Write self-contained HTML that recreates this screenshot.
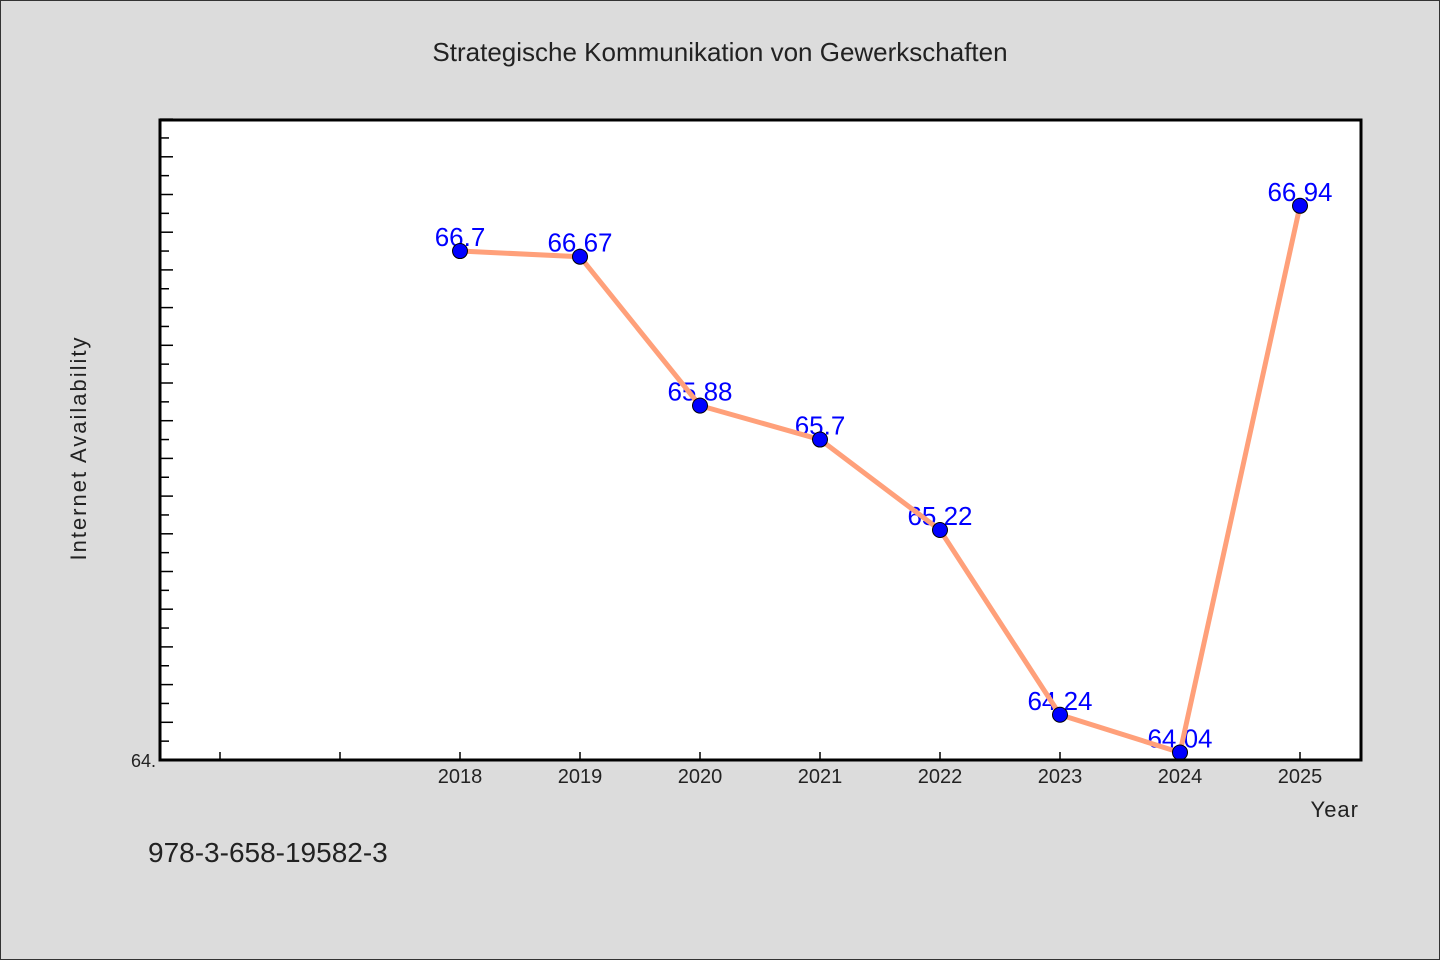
<!DOCTYPE html>
<html><head><meta charset="utf-8"><style>
body{margin:0;background:#dcdcdc}
svg{display:block}
text{font-family:"WenQuanYi Zen Hei","Liberation Sans",sans-serif}
</style></head><body>
<svg width="1440" height="960" viewBox="0 0 1440 960">
<rect x="0.5" y="0.5" width="1439" height="959" fill="#dcdcdc" stroke="#333"/>
<text x="720" y="61" font-size="26" text-anchor="middle" fill="#222">Strategische Kommunikation von Gewerkschaften</text>
<rect x="160" y="120" width="1201" height="640" fill="#fff"/>
<g id="ticks"></g>
<g id="labels"></g>
<g id="series"></g>
<rect x="160" y="120" width="1201" height="640" fill="none" stroke="#000" stroke-width="3"/>
<text x="156" y="767" font-size="18" text-anchor="end" fill="#222">64.</text>
<text x="86" y="448" font-size="22" text-anchor="middle" fill="#222" transform="rotate(-90 86 448)" letter-spacing="2">Internet Availability</text>
<text x="1359" y="817" font-size="22" text-anchor="end" fill="#222" letter-spacing="1">Year</text>
<text x="148" y="862" font-size="28" fill="#222">978-3-658-19582-3</text>
</svg>
<script>
const years=[2018,2019,2020,2021,2022,2023,2024,2025];
const values=[66.7,66.67,65.88,65.7,65.22,64.24,64.04,66.94];
const valueLabels=["66.7","66.67","65.88","65.7","65.22","64.24","64.04","66.94"];
const xTicks=[2016,2017,2018,2019,2020,2021,2022,2023,2024,2025];
const NS="http://www.w3.org/2000/svg";
const x=v=>160+(v-2015.5)*120;
const y=v=>760-(v-64)*188.5;
function mk(t,a,p){const e=document.createElementNS(NS,t);for(const k in a)e.setAttribute(k,a[k]);p.appendChild(e);return e;}
const tk=document.getElementById('ticks'),lb=document.getElementById('labels'),sr=document.getElementById('series');
for(let i=1;i<=34;i++){const v=64+i*0.1;const long=i%2==0;
 const l=mk('line',{x1:160,x2:160+(long?13:9),y1:y(v),y2:y(v),stroke:'#000','stroke-width':1.5},tk);
 
 }
xTicks.forEach(v=>{const l=mk('line',{x1:x(v),x2:x(v),y1:760,y2:752,stroke:'#000','stroke-width':1.5},tk);
 
 
 if(v>=2018){const t=mk('text',{x:x(v),y:783,'font-size':20,'text-anchor':'middle',fill:'#222'},tk);t.textContent=v;
 
 }});
years.forEach((yr,i)=>{const t=mk('text',{x:x(yr),y:y(values[i])-5,'font-size':26,'text-anchor':'middle',fill:'#0000ff'},lb);t.textContent=valueLabels[i];
 
 });
const pl=mk('polyline',{points:years.map((yr,i)=>x(yr)+','+y(values[i])).join(' '),fill:'none',stroke:'#ffa07a','stroke-width':5,'stroke-linejoin':'round'},sr);


years.forEach((yr,i)=>{const c=mk('circle',{cx:x(yr),cy:y(values[i]),r:7.5,fill:'#0000ff',stroke:'#000','stroke-width':1},sr);
 
 });
</script>
</body></html>
